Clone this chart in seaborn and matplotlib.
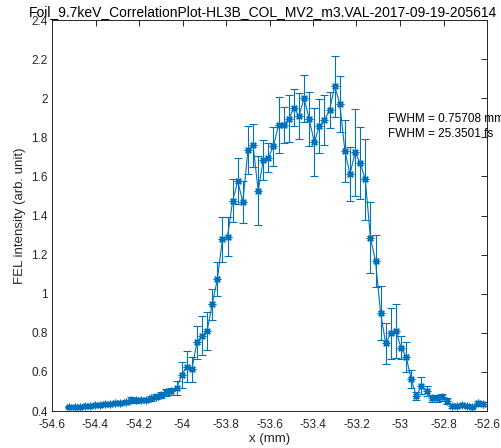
import numpy as np
import pandas as pd
import matplotlib
matplotlib.use("Agg")
import matplotlib.pyplot as plt
import seaborn as sns

# ---- data ----
x_start, x_stop, n_points = -54.52, -52.62, 82
x_vals = np.linspace(x_start, x_stop, n_points)
y_vals = [0.420, 0.421, 0.423, 0.425, 0.428, 0.430, 0.432, 0.436, 0.437, 0.440,
          0.441, 0.446, 0.455, 0.455, 0.454, 0.457, 0.465, 0.473, 0.480, 0.495,
          0.500, 0.516,
          0.584, 0.627, 0.613, 0.751, 0.785, 0.809, 0.947, 1.075, 1.278, 1.292,
          1.476, 1.576, 1.468, 1.735, 1.760, 1.527, 1.684, 1.696, 1.755, 1.863,
          1.863, 1.894, 1.951, 1.909, 2.000, 1.894, 1.774, 1.858, 1.888, 1.940,
          2.062, 1.970, 1.730, 1.611, 1.723, 1.667, 1.585, 1.286, 1.167, 0.900,
          0.746, 0.797, 0.809, 0.724, 0.678, 0.562, 0.477, 0.529, 0.502, 0.465,
          0.465, 0.470, 0.451, 0.427, 0.427, 0.430, 0.426, 0.422, 0.440, 0.436]
y_err = [0.006, 0.005, 0.006, 0.006, 0.007, 0.006, 0.007, 0.008, 0.007, 0.008,
         0.008, 0.010, 0.015, 0.012, 0.010, 0.010, 0.012, 0.014, 0.015, 0.018,
         0.020, 0.036,
         0.068, 0.078, 0.065, 0.085, 0.100, 0.096, 0.079, 0.085, 0.116, 0.099,
         0.111, 0.116, 0.108, 0.123, 0.110, 0.176, 0.104, 0.075, 0.100, 0.145,
         0.090, 0.120, 0.094, 0.118, 0.120, 0.140, 0.174, 0.138, 0.126, 0.094,
         0.156, 0.145, 0.159, 0.138, 0.222, 0.184, 0.207, 0.182, 0.133, 0.138,
         0.104, 0.130, 0.136, 0.060, 0.077, 0.046, 0.022, 0.043, 0.026, 0.017,
         0.017, 0.018, 0.015, 0.010, 0.008, 0.008, 0.008, 0.008, 0.012, 0.010]

x_ticks = [-54.6, -54.4, -54.2, -54.0, -53.8, -53.6, -53.4, -53.2, -53.0, -52.8, -52.6]
x_tick_labels = ["-54.6", "-54.4", "-54.2", "-54", "-53.8", "-53.6", "-53.4",
                 "-53.2", "-53", "-52.8", "-52.6"]
y_ticks = [0.4, 0.6, 0.8, 1.0, 1.2, 1.4, 1.6, 1.8, 2.0, 2.2, 2.4]
y_tick_labels = ["0.4", "0.6", "0.8", "1", "1.2", "1.4", "1.6", "1.8", "2", "2.2", "2.4"]

title_text = "Foil_9.7keV_CorrelationPlot-HL3B_COL_MV2_m3.VAL-2017-09-19-205614"
annot_lines = ["FWHM = 0.75708 mm", "FWHM = 25.3501 fs"]
annot_x = -53.055
annot_y = [1.894, 1.817]

# ---- style ----
sns.set_theme(style="white")
plt.rcParams["font.family"] = ["Liberation Sans", "DejaVu Sans"]

blue = "#0072BD"
axcol = "#262626"

fig = plt.figure(figsize=(5.01, 4.48), dpi=100)
ax = fig.add_axes([52 / 501, 37 / 448, 435 / 501, 391 / 448])

df = pd.DataFrame({"x": x_vals, "y": y_vals, "err": y_err})

ax.errorbar(df["x"], df["y"], yerr=df["err"], fmt="none", ecolor=blue,
            elinewidth=0.8, capsize=2.6, capthick=0.8, zorder=2)
sns.lineplot(data=df, x="x", y="y", ax=ax, color=blue, linewidth=0.8,
             marker=(8, 2, 0), markersize=5.5, markeredgecolor=blue,
             markeredgewidth=0.9, zorder=3, sort=False)

ax.set_xlim(-54.6, -52.6)
ax.set_ylim(0.4, 2.4)
ax.set_xticks(x_ticks)
ax.set_xticklabels(x_tick_labels)
ax.set_yticks(y_ticks)
ax.set_yticklabels(y_tick_labels)
ax.tick_params(direction="in", length=4, width=0.7, colors=axcol,
               labelsize=8.5, top=True, right=True, pad=3)
ax.tick_params(axis="x", pad=5.5)
for s in ax.spines.values():
    s.set_color(axcol)
    s.set_linewidth(0.7)

ax.set_xlabel("x (mm)", fontsize=9.5, color=axcol, labelpad=2)
ax.set_ylabel("FEL intensity (arb. unit)", fontsize=9.5, color=axcol, labelpad=4)
ax.set_title(title_text, fontsize=10, color="black", pad=3, x=0.486)

for t, yy in zip(annot_lines, annot_y):
    ax.text(annot_x, yy, t, fontsize=8.5, color="black", va="center", ha="left",
            clip_on=False)

fig.savefig("out.png", dpi=100)
